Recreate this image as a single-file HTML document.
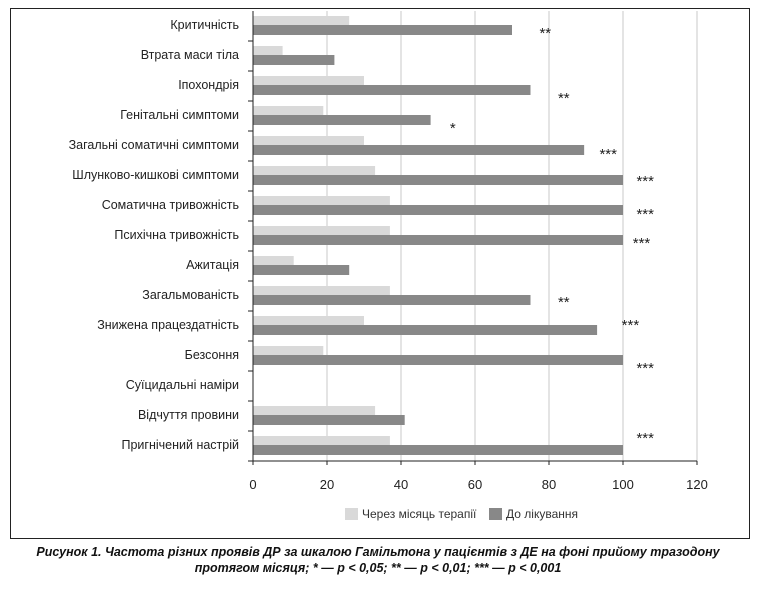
<!DOCTYPE html>
<html><head><meta charset="utf-8"><style>
body{margin:0;background:#fff;width:757px;height:586px;overflow:hidden;font-family:"Liberation Sans",Arial,sans-serif}
</style></head><body>
<svg width="757" height="586" id="c" font-family="Liberation Sans, sans-serif">
<rect x="10.5" y="8.5" width="739" height="530" fill="none" stroke="#222" stroke-width="1"/>
<g id="grid"></g><g id="bars"></g><g id="labels"></g><g id="stars"></g><g id="axis"></g>
<g>
<rect x="345" y="508" width="13" height="12" fill="#d9d9d9"/>
<text x="362" y="518" font-size="12" fill="#333">Через місяць терапії</text>
<rect x="489" y="508" width="13" height="12" fill="#888"/>
<text x="506" y="518" font-size="12" fill="#333">До лікування</text>
</g>
<text x="378" y="556" font-size="12.5" font-weight="bold" font-style="italic" text-anchor="middle" fill="#111">Рисунок 1. Частота різних проявів ДР за шкалою Гамільтона у пацієнтів з ДЕ на фоні прийому тразодону</text>
<text x="378" y="572" font-size="12.5" font-weight="bold" font-style="italic" text-anchor="middle" fill="#111">протягом місяця; * — p &lt; 0,05; ** — p &lt; 0,01; *** — p &lt; 0,001</text>
</svg>
<script>
const categories=["Критичність","Втрата маси тіла","Іпохондрія","Генітальні симптоми","Загальні соматичні симптоми","Шлунково-кишкові симптоми","Соматична тривожність","Психічна тривожність","Ажитація","Загальмованість","Знижена працездатність","Безсоння","Суїцидальні наміри","Відчуття провини","Пригнічений настрій"];
const afterTherapy=[26,8,30,19,30,33,37,37,11,37,30,19,0,33,37];
const beforeTreatment=[70,22,75,48,89.5,100,100,100,26,75,93,100,0,41,100];
const significance=["**","","**","*","***","***","***","***","","**","***","***","","","***"];
const starX=[79,0,84,54,96,106,106,105,0,84,102,106,0,0,106];
const starDy=[22,0,27,27,23,20,23,22,0,21,14,27,0,0,7];
const ticks=[0,20,40,60,80,100,120];
const NS="http://www.w3.org/2000/svg";
const x0=253,x1=697,topY=11,band=30,xmax=120;
const X=v=>x0+v/xmax*(x1-x0);
const Y=i=>topY+i*band;
function mk(p,t,a){const e=document.createElementNS(NS,t);for(const k in a)e.setAttribute(k,a[k]);document.getElementById(p).appendChild(e);return e;}
ticks.forEach(t=>{
 if(t>0){const g=mk("grid","line",{x1:X(t),x2:X(t),y1:topY,y2:461,stroke:"#c8c8c8","stroke-width":1});
 
 }
 const l=mk("axis","text",{x:X(t),y:489,"font-size":13,"text-anchor":"middle",fill:"#222"});l.textContent=t;
 
 
});
const ax=mk("axis","line",{x1:x0,x2:x1,y1:461,y2:461,stroke:"#222","stroke-width":1});


const ay=mk("axis","line",{x1:x0,x2:x0,y1:topY,y2:465,stroke:"#222","stroke-width":1});


ticks.forEach(t=>{const k=mk("axis","line",{x1:X(t),x2:X(t),y1:461,y2:465,stroke:"#222"});
 
 });
const k2=mk("axis","line",{x1:x0-5,x2:x0,y1:461,y2:461,stroke:"#222"});


categories.forEach((c,i)=>{
 const y=Y(i);
 if(i>0){const k=mk("axis","line",{x1:x0-5,x2:x0,y1:y,y2:y,stroke:"#222"});
 
 }
 const a=mk("bars","rect",{x:x0,y:y+5,width:X(afterTherapy[i])-x0,height:9,fill:"#d9d9d9"});
 
 
 const b=mk("bars","rect",{x:x0,y:y+14,width:X(beforeTreatment[i])-x0,height:10,fill:"#888"});
 
 
 const t=mk("labels","text",{x:239,y:y+18,"font-size":12.5,"text-anchor":"end",fill:"#222"});t.textContent=c;
 
 
 if(significance[i]){const s=mk("stars","text",{x:X(starX[i]),y:y+starDy[i]+5,"font-size":15,"text-anchor":"middle",fill:"#222"});s.textContent=significance[i];
 
 }
});
</script>
</body></html>
